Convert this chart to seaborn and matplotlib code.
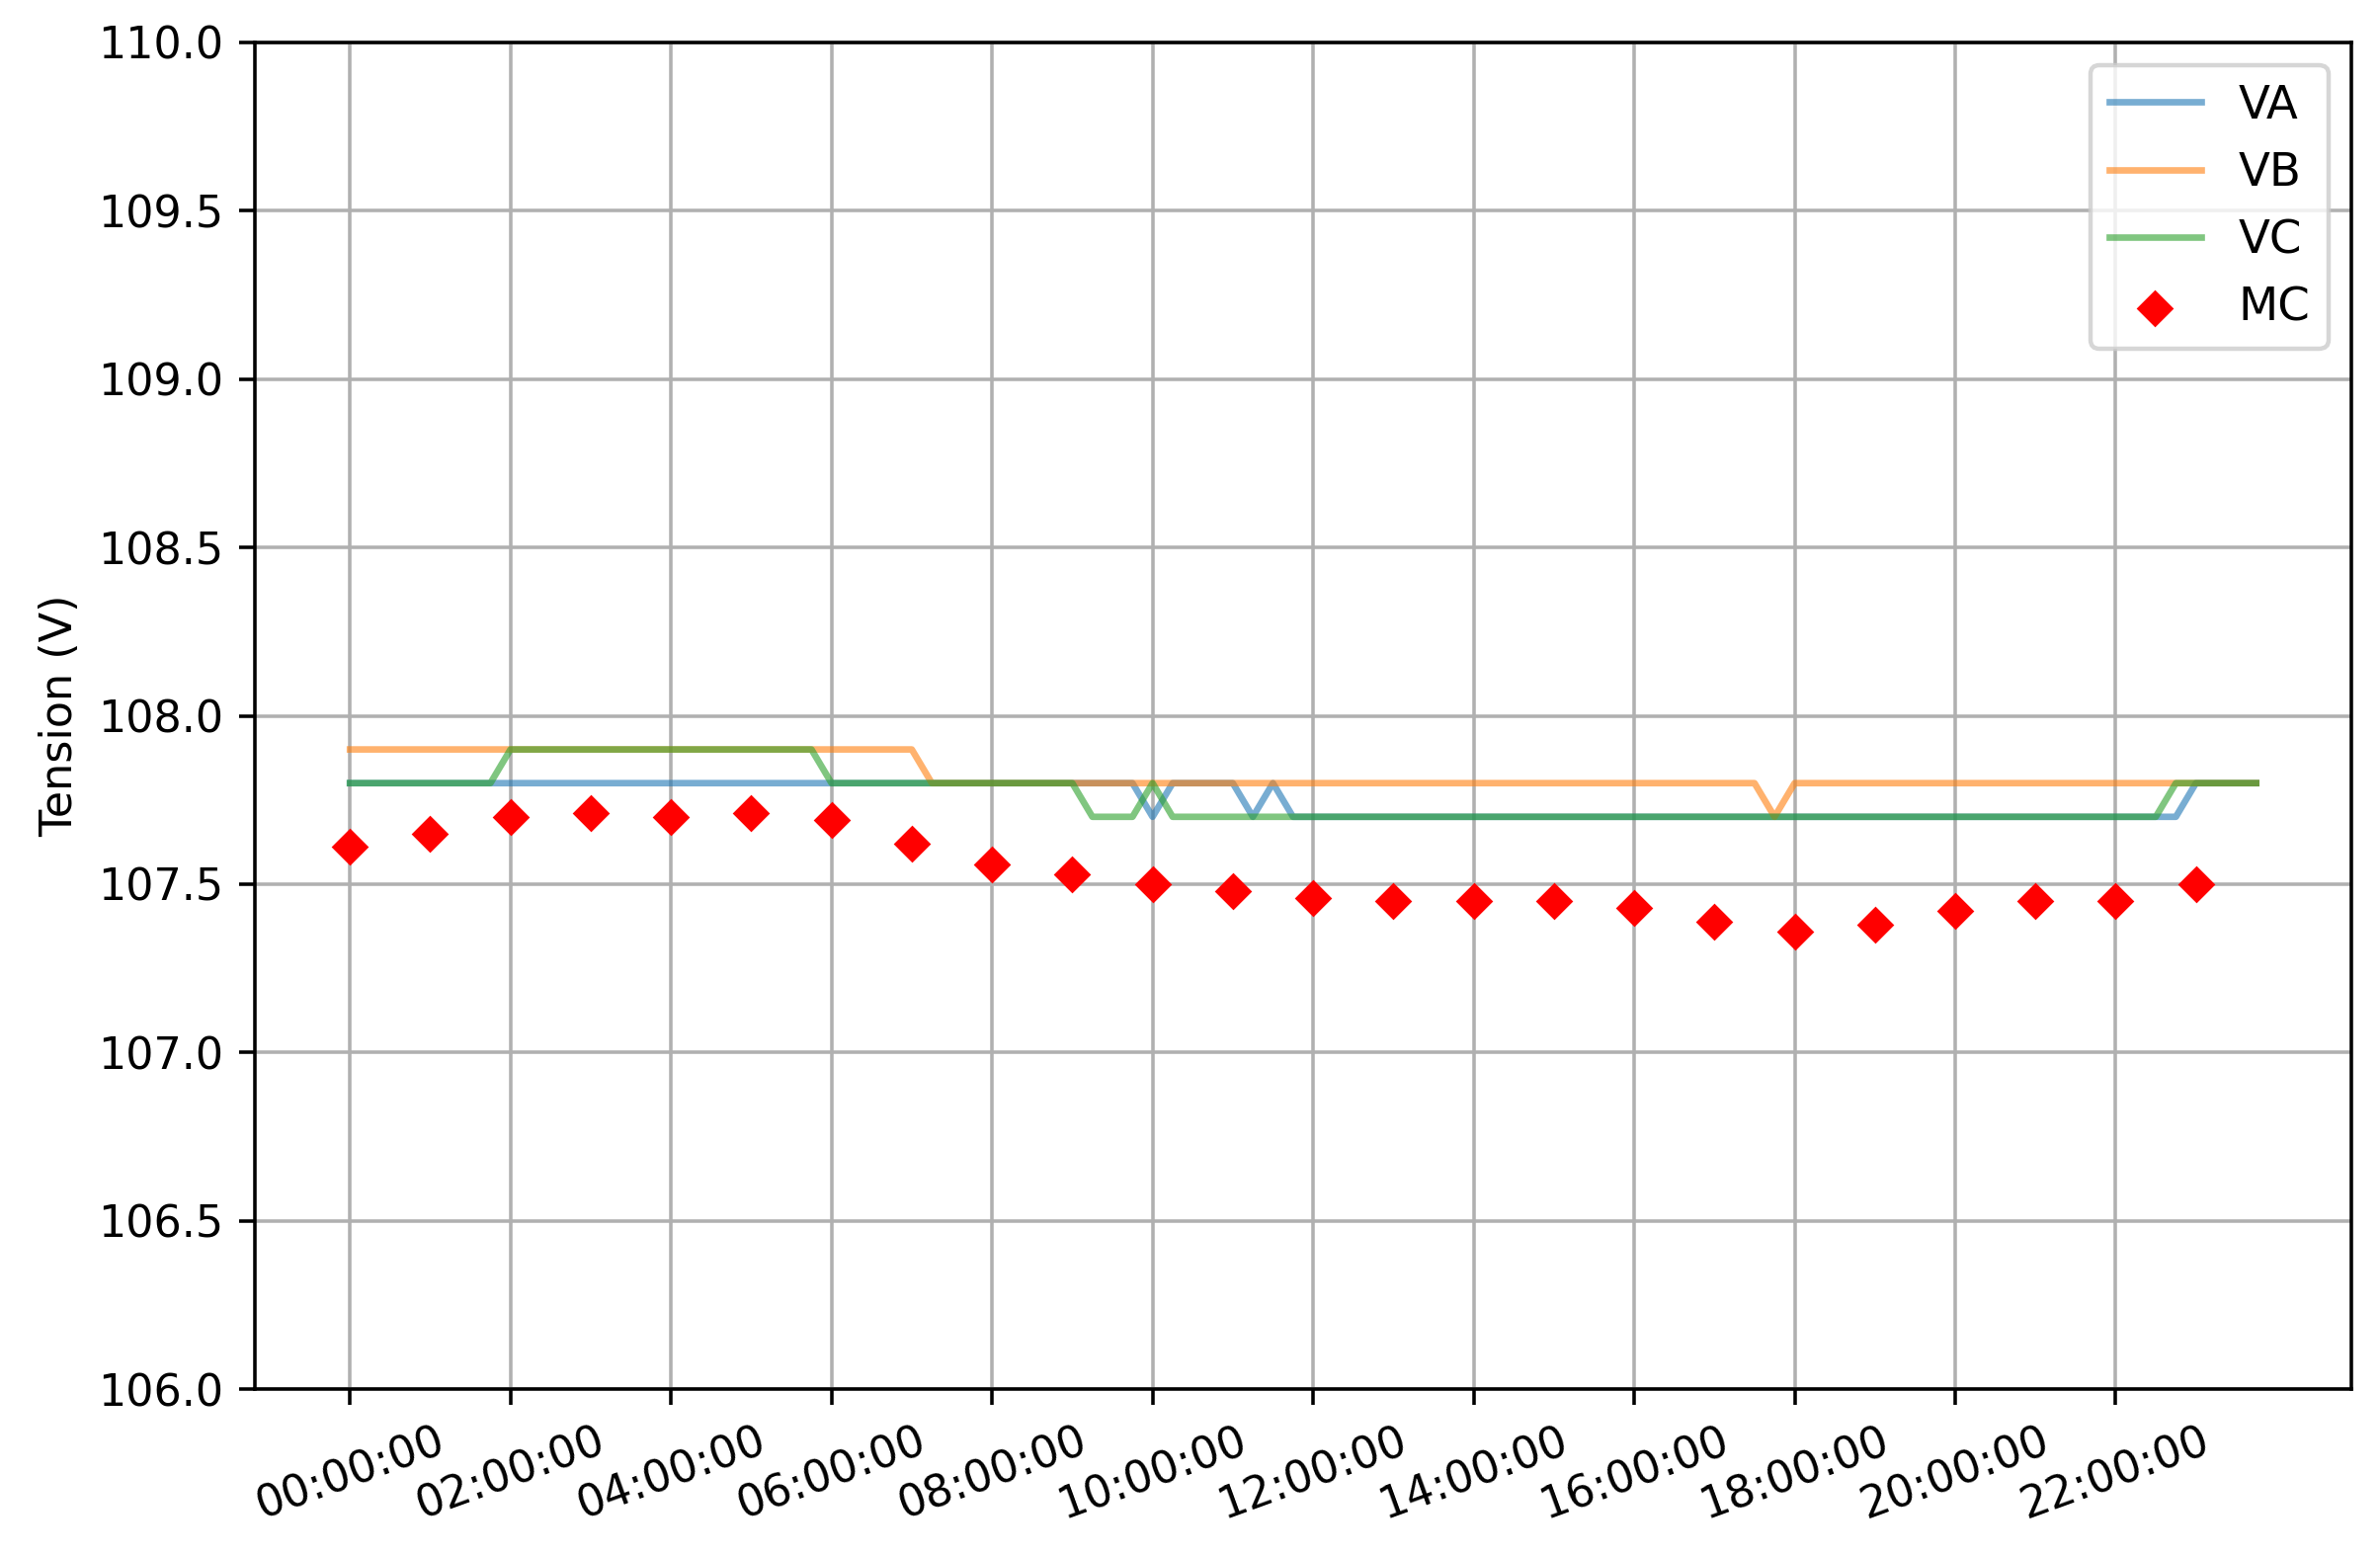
import matplotlib
matplotlib.use("Agg")
import matplotlib.pyplot as plt
import matplotlib.dates as mdates
import seaborn as sns
import pandas as pd

# 15-minute samples, one row = 2 hours (8 samples)
va = [107.8, 107.8, 107.8, 107.8, 107.8, 107.8, 107.8, 107.8,
      107.8, 107.8, 107.8, 107.8, 107.8, 107.8, 107.8, 107.8,
      107.8, 107.8, 107.8, 107.8, 107.8, 107.8, 107.8, 107.8,
      107.8, 107.8, 107.8, 107.8, 107.8, 107.8, 107.8, 107.8,
      107.8, 107.8, 107.8, 107.8, 107.8, 107.8, 107.8, 107.8,
      107.7, 107.8, 107.8, 107.8, 107.8, 107.7, 107.8, 107.7,
      107.7, 107.7, 107.7, 107.7, 107.7, 107.7, 107.7, 107.7,
      107.7, 107.7, 107.7, 107.7, 107.7, 107.7, 107.7, 107.7,
      107.7, 107.7, 107.7, 107.7, 107.7, 107.7, 107.7, 107.7,
      107.7, 107.7, 107.7, 107.7, 107.7, 107.7, 107.7, 107.7,
      107.7, 107.7, 107.7, 107.7, 107.7, 107.7, 107.7, 107.7,
      107.7, 107.7, 107.7, 107.7, 107.8, 107.8, 107.8, 107.8]

vb = [107.9, 107.9, 107.9, 107.9, 107.9, 107.9, 107.9, 107.9,
      107.9, 107.9, 107.9, 107.9, 107.9, 107.9, 107.9, 107.9,
      107.9, 107.9, 107.9, 107.9, 107.9, 107.9, 107.9, 107.9,
      107.9, 107.9, 107.9, 107.9, 107.9, 107.8, 107.8, 107.8,
      107.8, 107.8, 107.8, 107.8, 107.8, 107.8, 107.8, 107.8,
      107.8, 107.8, 107.8, 107.8, 107.8, 107.8, 107.8, 107.8,
      107.8, 107.8, 107.8, 107.8, 107.8, 107.8, 107.8, 107.8,
      107.8, 107.8, 107.8, 107.8, 107.8, 107.8, 107.8, 107.8,
      107.8, 107.8, 107.8, 107.8, 107.8, 107.8, 107.8, 107.7,
      107.8, 107.8, 107.8, 107.8, 107.8, 107.8, 107.8, 107.8,
      107.8, 107.8, 107.8, 107.8, 107.8, 107.8, 107.8, 107.8,
      107.8, 107.8, 107.8, 107.8, 107.8, 107.8, 107.8, 107.8]

vc = [107.8, 107.8, 107.8, 107.8, 107.8, 107.8, 107.8, 107.8,
      107.9, 107.9, 107.9, 107.9, 107.9, 107.9, 107.9, 107.9,
      107.9, 107.9, 107.9, 107.9, 107.9, 107.9, 107.9, 107.9,
      107.8, 107.8, 107.8, 107.8, 107.8, 107.8, 107.8, 107.8,
      107.8, 107.8, 107.8, 107.8, 107.8, 107.7, 107.7, 107.7,
      107.8, 107.7, 107.7, 107.7, 107.7, 107.7, 107.7, 107.7,
      107.7, 107.7, 107.7, 107.7, 107.7, 107.7, 107.7, 107.7,
      107.7, 107.7, 107.7, 107.7, 107.7, 107.7, 107.7, 107.7,
      107.7, 107.7, 107.7, 107.7, 107.7, 107.7, 107.7, 107.7,
      107.7, 107.7, 107.7, 107.7, 107.7, 107.7, 107.7, 107.7,
      107.7, 107.7, 107.7, 107.7, 107.7, 107.7, 107.7, 107.7,
      107.7, 107.7, 107.7, 107.8, 107.8, 107.8, 107.8, 107.8]

# hourly measurement
mc = [107.61, 107.65, 107.70, 107.71, 107.70, 107.71, 107.69, 107.62,
      107.56, 107.53, 107.50, 107.48, 107.46, 107.45, 107.45, 107.45,
      107.43, 107.39, 107.36, 107.38, 107.42, 107.45, 107.45, 107.50]

t_quarter = pd.date_range("2024-01-01 00:00", periods=len(va), freq="15min")
t_hour = pd.date_range("2024-01-01 00:00", periods=len(mc), freq="h")

df = pd.DataFrame({"time": t_quarter, "VA": va, "VB": vb, "VC": vc})
df_mc = pd.DataFrame({"time": t_hour, "MC": mc})

fig, ax = plt.subplots(figsize=(2409 / 320, 1575 / 320), dpi=320)
colors = sns.color_palette("tab10", 3)
for name, c in zip(["VA", "VB", "VC"], colors):
    sns.lineplot(data=df, x="time", y=name, ax=ax, color=c, alpha=0.6,
                 linewidth=1.5, label=name)
sns.scatterplot(data=df_mc, x="time", y="MC", ax=ax, color="red", marker="D",
                s=36, linewidth=0, label="MC", zorder=3)

ax.set_ylim(106, 110)
ax.set_yticks([106.0, 106.5, 107.0, 107.5, 108.0, 108.5, 109.0, 109.5, 110.0])
ax.set_xticks(t_hour[::2])
ax.xaxis.set_major_formatter(mdates.DateFormatter("%H:%M:%S"))
plt.setp(ax.get_xticklabels(), rotation=20)
ax.set_xlabel("")
ax.set_ylabel("Tension (V)")
ax.grid(True)
ax.legend(loc="upper right", fontsize=10.5)

plt.subplots_adjust(left=0.107, right=0.988, top=0.973, bottom=0.107)
plt.savefig("out.png", dpi=320)
plt.close()
